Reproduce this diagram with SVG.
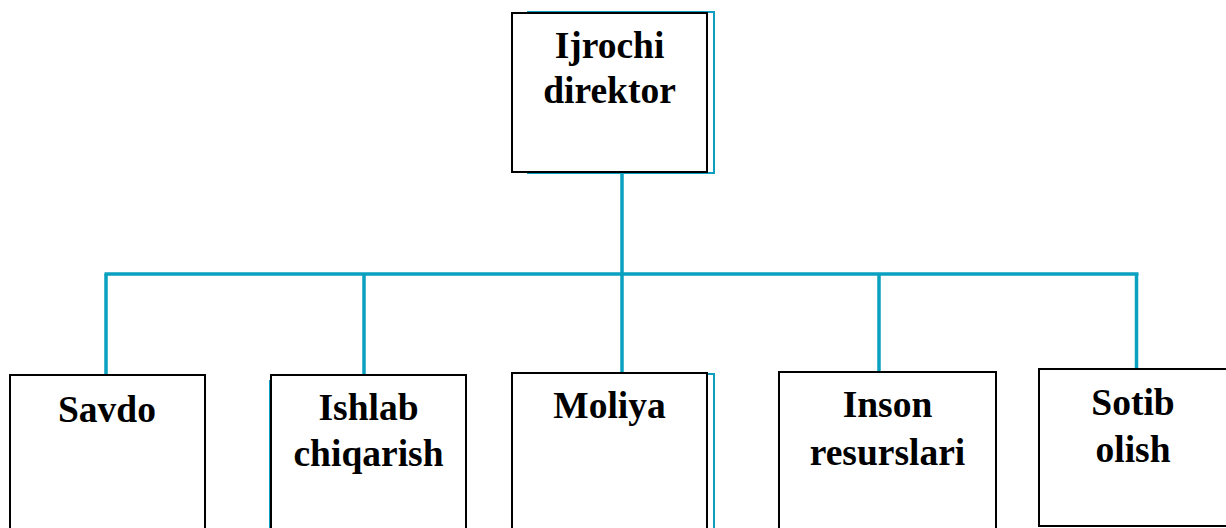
<svg xmlns="http://www.w3.org/2000/svg" width="1226" height="528" viewBox="0 0 1226 528">
<style>
.box{fill:#fff;stroke:#000;stroke-width:2}
.sh{fill:none;stroke:#0e9fc0;stroke-width:2}
.conn{fill:none;stroke:#0aa0c0;stroke-width:3.5}
text{font-family:"Liberation Serif","Times New Roman",serif;font-weight:bold;font-size:37.5px;fill:#000;text-anchor:middle}
</style>
<rect width="1226" height="528" fill="#fff"/>
<g id="connectors">
<line class="conn" x1="622" y1="172" x2="622" y2="373"/>
<line class="conn" x1="104.5" y1="274" x2="1138.5" y2="274"/>
<line class="conn" x1="106" y1="274" x2="106" y2="375"/>
<line class="conn" x1="364" y1="274" x2="364" y2="375"/>
<line class="conn" x1="879" y1="274" x2="879" y2="372"/>
<line class="conn" x1="1136.5" y1="274" x2="1136.5" y2="369"/>
</g>
<g id="n-ijrochi">
<polyline class="sh" points="527,12 714,12 714,173 527,173"/>
<rect class="box" x="512" y="13" width="195" height="159"/>
<text x="609.5" y="58">Ijrochi</text>
<text x="609.5" y="103">direktor</text>
</g>
<g id="n-savdo">
<rect class="box" x="10" y="375" width="195" height="160"/>
<text x="107" y="422">Savdo</text>
</g>
<g id="n-ishlab">
<line class="sh" x1="270" y1="380" x2="270" y2="530"/>
<rect class="box" x="271" y="375" width="195" height="160"/>
<text x="368.5" y="420">Ishlab</text>
<text x="368.5" y="466">chiqarish</text>
</g>
<g id="n-moliya">
<polyline class="sh" points="707,374 714,374 714,530"/>
<rect class="box" x="512" y="373" width="195" height="160"/>
<text x="609.5" y="418">Moliya</text>
</g>
<g id="n-inson">
<rect class="box" x="779" y="372" width="217" height="160"/>
<text x="887.5" y="417">Inson</text>
<text x="887.5" y="465">resurslari</text>
</g>
<g id="n-sotib">
<rect class="box" x="1039" y="369" width="195" height="157"/>
<text x="1133" y="415">Sotib</text>
<text x="1133" y="462">olish</text>
</g>
</svg>
